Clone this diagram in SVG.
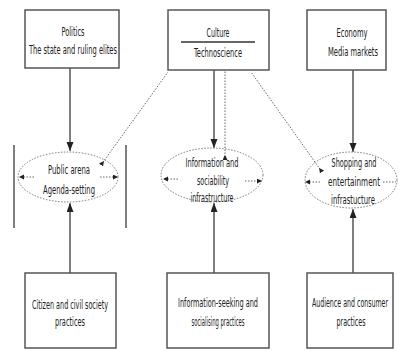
<svg xmlns="http://www.w3.org/2000/svg" width="399" height="351" viewBox="0 0 399 351">
<defs>
<style>
.box{fill:#fff;stroke:#555;stroke-width:1.5}
.ell{fill:none;stroke:#777;stroke-width:1;stroke-dasharray:1.5 1.5}
.t{font-family:"Liberation Sans Narrow","DejaVu Sans Condensed","Liberation Sans",sans-serif;font-size:12px;fill:#222;text-anchor:middle}
.solid{stroke:#555;stroke-width:1.5;fill:none}
.dot{stroke:#666;stroke-width:1;stroke-dasharray:1.5 1.5;fill:none}
</style>
<marker id="arr" markerUnits="userSpaceOnUse" markerWidth="8" markerHeight="9" refX="9" refY="3.5" orient="auto"><path d="M0,0 L9,3.5 L0,7 z" fill="#222"/></marker>
<marker id="sarr" markerUnits="userSpaceOnUse" markerWidth="6" markerHeight="6" refX="5" refY="2.5" orient="auto"><path d="M0,0 L5,2.5 L0,5 z" fill="#222"/></marker>
<marker id="tri" markerUnits="userSpaceOnUse" markerWidth="6" markerHeight="6" refX="0" refY="2.5" orient="auto"><path d="M0,0 L5,2.5 L0,5 z" fill="#222"/></marker>
</defs>
<rect width="399" height="351" fill="#fff"/>

<g id="connectors">
<line class="solid" x1="70" y1="68" x2="70" y2="151" marker-end="url(#arr)"/>
<line class="solid" x1="214" y1="70" x2="214" y2="148" marker-end="url(#arr)"/>
<line class="solid" x1="353" y1="70" x2="353" y2="152" marker-end="url(#arr)"/>
<line class="solid" x1="70" y1="273" x2="70" y2="203" marker-end="url(#arr)"/>
<line class="solid" x1="214" y1="273" x2="214" y2="203" marker-end="url(#arr)"/>
<line class="solid" x1="353" y1="273" x2="353" y2="209" marker-end="url(#arr)"/>
<line class="dot" x1="225" y1="160" x2="225" y2="70" marker-start="url(#tri)"/>
<line class="dot" x1="101" y1="165" x2="168" y2="72" marker-start="url(#tri)"/>
<line class="dot" x1="322" y1="172" x2="251" y2="72" marker-start="url(#tri)"/>
<line class="dot" x1="34" y1="177" x2="19" y2="177" marker-end="url(#sarr)"/>
<line class="dot" x1="100" y1="177" x2="118" y2="177" marker-end="url(#sarr)"/>
<line class="dot" x1="178" y1="179" x2="163" y2="179" marker-end="url(#sarr)"/>
<line class="dot" x1="245" y1="181" x2="262" y2="181" marker-end="url(#sarr)"/>
<line class="dot" x1="320" y1="182" x2="305" y2="182" marker-end="url(#sarr)"/>
<line class="dot" x1="383" y1="182" x2="396" y2="182"/>
<line class="solid" x1="14" y1="145" x2="14" y2="228"/>
<line class="solid" x1="126" y1="145" x2="126" y2="228"/>
</g>

<g id="politics">
<rect class="box" x="25" y="10" width="94" height="58"/>
<text class="t" x="73" y="36" textLength="23" lengthAdjust="spacingAndGlyphs">Politics</text>
<text class="t" x="73" y="54" textLength="88" lengthAdjust="spacingAndGlyphs">The state and ruling elites</text>
</g>
<g id="culture">
<rect class="box" x="168" y="10" width="101" height="60"/>
<text class="t" x="218" y="37" textLength="23" lengthAdjust="spacingAndGlyphs">Culture</text>
<line x1="181" y1="42" x2="255" y2="42" stroke="#333" stroke-width="1.5"/>
<text class="t" x="218" y="57" textLength="48" lengthAdjust="spacingAndGlyphs">Technoscience</text>
</g>
<g id="economy">
<rect class="box" x="307" y="10" width="79" height="60"/>
<text class="t" x="352" y="37" textLength="31" lengthAdjust="spacingAndGlyphs">Economy</text>
<text class="t" x="353" y="56" textLength="50" lengthAdjust="spacingAndGlyphs">Media markets</text>
</g>

<g id="public-arena">
<ellipse class="ell" cx="68" cy="177" rx="50" ry="25"/>
<text class="t" x="69" y="174" textLength="42" lengthAdjust="spacingAndGlyphs">Public arena</text>
<text class="t" x="69" y="194" textLength="52" lengthAdjust="spacingAndGlyphs">Agenda-setting</text>
</g>
<g id="information">
<ellipse class="ell" cx="212" cy="175" rx="51" ry="27"/>
<text class="t" x="212" y="167" textLength="53" lengthAdjust="spacingAndGlyphs">Information and</text>
<text class="t" x="213" y="185" textLength="32" lengthAdjust="spacingAndGlyphs">sociability</text>
<text class="t" x="212" y="202" textLength="43" lengthAdjust="spacingAndGlyphs">infrastructure</text>
</g>
<g id="shopping">
<ellipse class="ell" cx="351" cy="180" rx="46" ry="28"/>
<text class="t" x="354" y="167" textLength="45" lengthAdjust="spacingAndGlyphs">Shopping and</text>
<text class="t" x="354" y="186" textLength="52" lengthAdjust="spacingAndGlyphs">entertainment</text>
<text class="t" x="353" y="204" textLength="44" lengthAdjust="spacingAndGlyphs">infrastucture</text>
</g>

<g id="citizen">
<rect class="box" x="25" y="273" width="91" height="75"/>
<text class="t" x="70" y="309" textLength="76" lengthAdjust="spacingAndGlyphs">Citizen and civil society</text>
<text class="t" x="70" y="326" textLength="30" lengthAdjust="spacingAndGlyphs">practices</text>
</g>
<g id="info-seeking">
<rect class="box" x="167" y="273" width="102" height="75"/>
<text class="t" x="218" y="307" textLength="80" lengthAdjust="spacingAndGlyphs">Information-seeking and</text>
<text class="t" x="218" y="326" textLength="53" lengthAdjust="spacingAndGlyphs">socialising practices</text>
</g>
<g id="audience">
<rect class="box" x="307" y="273" width="86" height="75"/>
<text class="t" x="350" y="307" textLength="76" lengthAdjust="spacingAndGlyphs">Audience and consumer</text>
<text class="t" x="351" y="326" textLength="29" lengthAdjust="spacingAndGlyphs">practices</text>
</g>
</svg>
